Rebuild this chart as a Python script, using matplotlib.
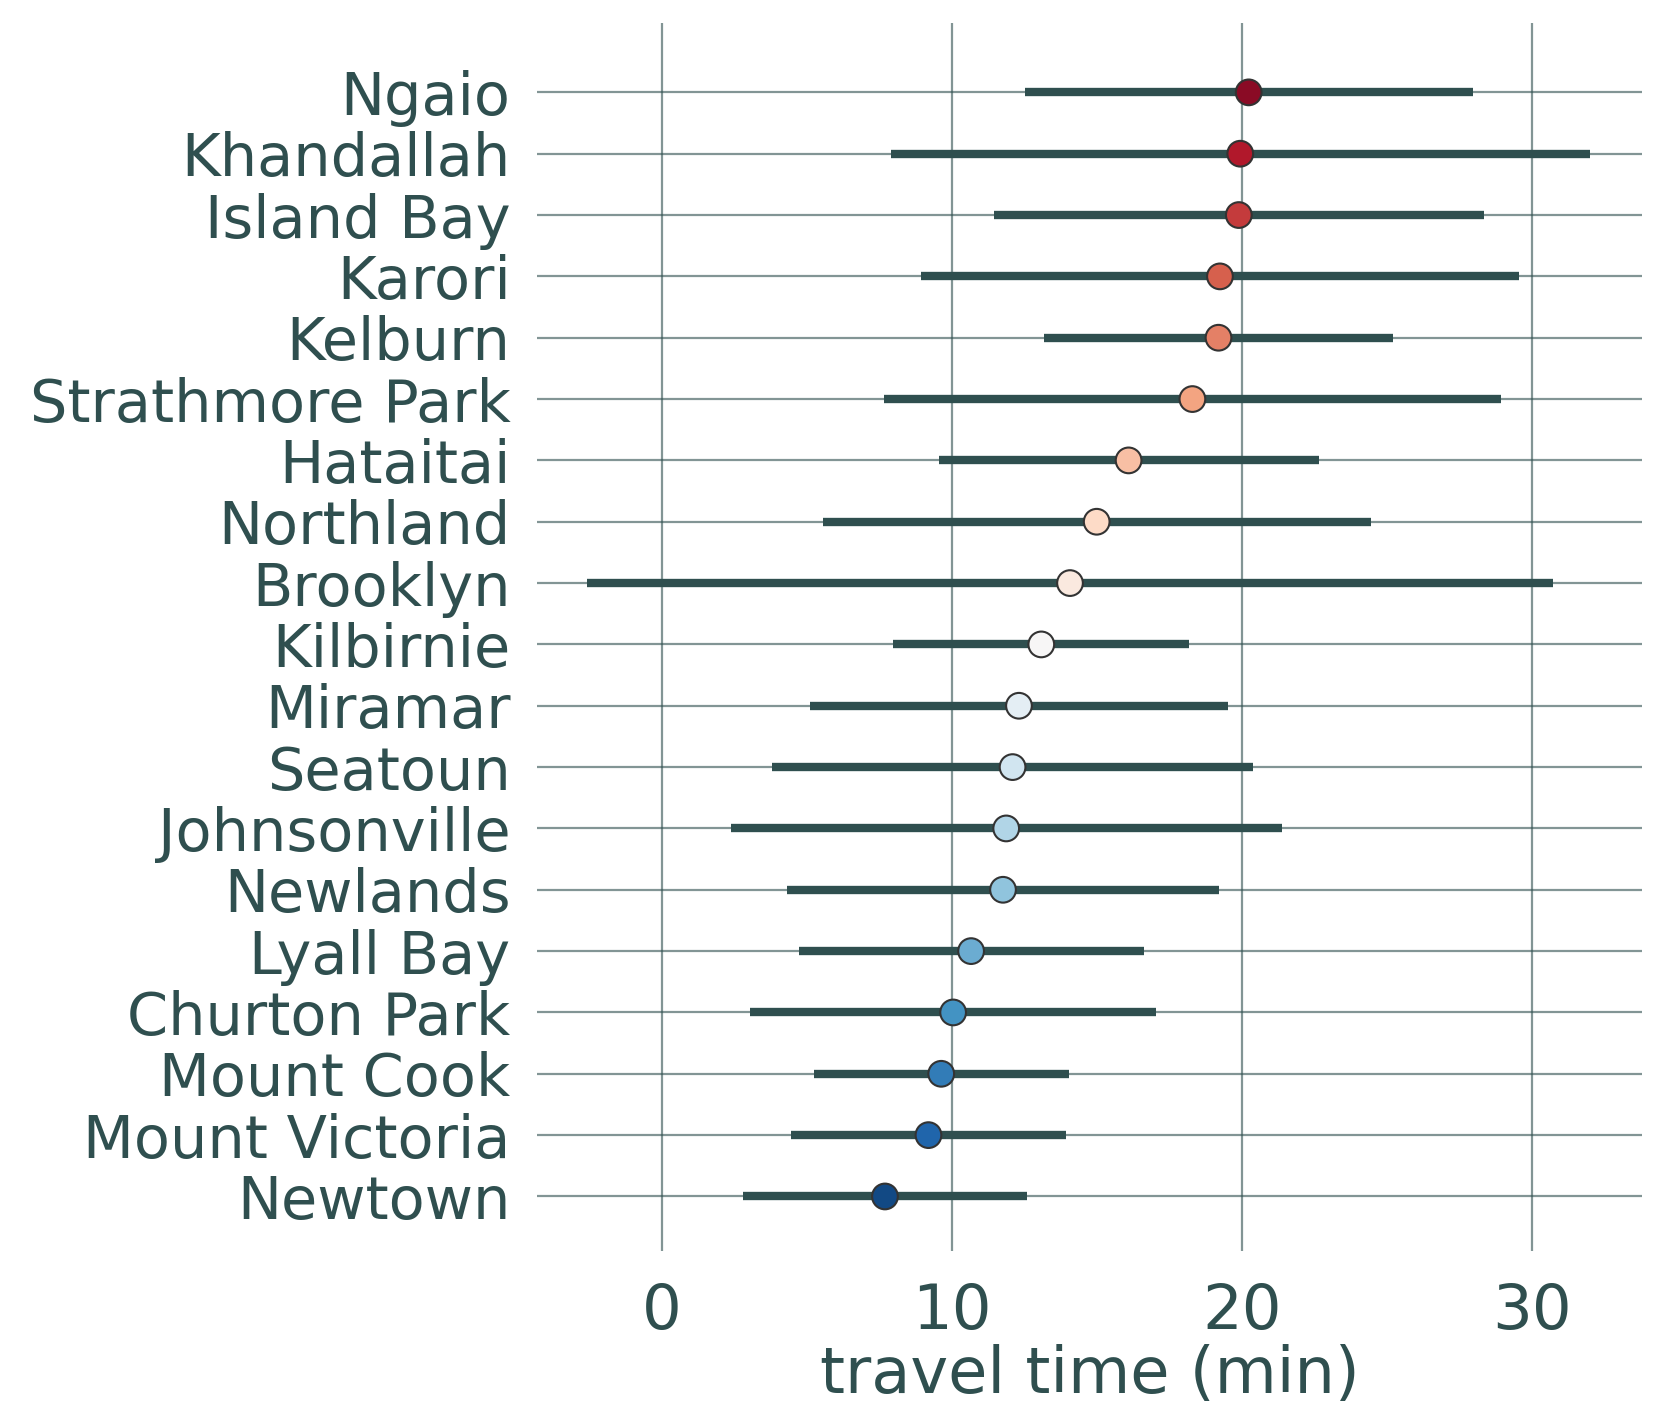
import numpy as np
import matplotlib
matplotlib.use("Agg")
import matplotlib.pyplot as plt

# suburbs, bottom -> top
suburbs = ["Newtown", "Mount Victoria", "Mount Cook", "Churton Park", "Lyall Bay",
           "Newlands", "Johnsonville", "Seatoun", "Miramar", "Kilbirnie",
           "Brooklyn", "Northland", "Hataitai", "Strathmore Park", "Kelburn",
           "Karori", "Island Bay", "Khandallah", "Ngaio"]
mean_time = [7.7, 9.2, 9.64, 10.05, 10.67,
             11.77, 11.88, 12.1, 12.32, 13.09,
             14.08, 15.0, 16.1, 18.3, 19.2,
             19.25, 19.9, 19.95, 20.24]
spread = [4.9, 4.75, 4.4, 7.0, 5.95,
          7.45, 9.5, 8.3, 7.2, 5.1,
          16.65, 9.45, 6.55, 10.65, 6.0,
          10.3, 8.45, 12.05, 7.72]

INK = "#2f4f4f"

fig = plt.figure(figsize=(16.69, 14.06), dpi=100)
ax = fig.add_axes([0.3217, 0.1102, 0.6621, 0.8734])

y = np.arange(len(suburbs))
mean_time = np.array(mean_time)
spread = np.array(spread)

# seaborn-style palette: RdBu_r without the extreme ends
cmap = plt.get_cmap("RdBu_r")
colors = cmap(np.linspace(0, 1, len(suburbs) + 2)[1:-1])

ax.hlines(y, mean_time - spread, mean_time + spread, color=INK, lw=6, zorder=3)
ax.scatter(mean_time, y, s=18.5 ** 2, c=colors, edgecolors="#333333",
           linewidths=1.5, zorder=4)

ax.set_yticks(y)
ax.set_yticklabels(suburbs)
ax.set_xticks([0, 10, 20, 30])
ax.set_xlim(-4.3, 33.8)
ax.set_ylim(-0.89, len(suburbs) - 1 + 1.13)

ax.grid(True, color=INK, alpha=0.6, lw=1.6)
ax.set_axisbelow(True)
for s in ax.spines.values():
    s.set_visible(False)
ax.tick_params(axis="both", length=0, colors=INK)
ax.tick_params(axis="y", pad=19, labelsize=42.5)
ax.tick_params(axis="x", pad=22, labelsize=45)
ax.set_xlabel("travel time (min)", fontsize=46, color=INK, labelpad=2)

fig.savefig("out.png", dpi=100, facecolor="white")
